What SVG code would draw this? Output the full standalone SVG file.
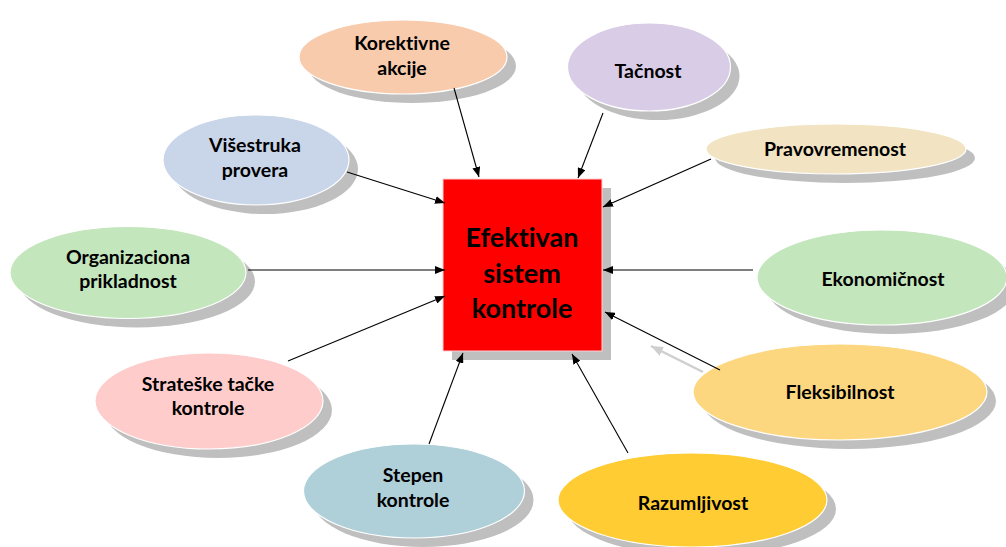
<svg xmlns="http://www.w3.org/2000/svg" width="1006" height="547" viewBox="0 0 1006 547">
<defs>
<marker id="ah" viewBox="0 0 10 8" refX="10" refY="4" markerWidth="10" markerHeight="8" markerUnits="userSpaceOnUse" orient="auto">
<path d="M0,0 L10,4 L0,8 Z" fill="#000"/>
</marker>
<marker id="ahg" viewBox="0 0 10 8" refX="10" refY="4" markerWidth="12" markerHeight="10" markerUnits="userSpaceOnUse" orient="auto">
<path d="M0,0 L10,4 L0,8 Z" fill="#CFCFCF"/>
</marker>
</defs>
<style>
.sh{fill:#BFBFBF}
.nd{stroke:#FFFFFF;stroke-width:1.2}
.t{font-family:Lato,"Open Sans","Liberation Sans",sans-serif;font-weight:bold;font-size:19.5px;fill:#000;text-anchor:middle;font-variant-ligatures:none}
.tc{font-family:Lato,"Open Sans","Liberation Sans",sans-serif;font-weight:bold;font-size:27px;fill:#000;text-anchor:middle;font-variant-ligatures:none}
.c{stroke:#000;stroke-width:1.1;fill:none;marker-end:url(#ah)}
.cg{stroke:#CFCFCF;stroke-width:2.5;fill:none;marker-end:url(#ahg)}
</style>
<rect width="1006" height="547" fill="#FFFFFF"/>

<g id="center">
<rect class="sh" x="452" y="188" width="159" height="172"/>
<rect x="443" y="179" width="159" height="172" fill="#FF0000" stroke="#FFD0D0" stroke-width="1"/>
<text class="tc" x="522" y="247">Efektivan</text>
<text class="tc" x="522" y="283">sistem</text>
<text class="tc" x="522" y="318">kontrole</text>
</g>

<g id="korektivne">
<ellipse class="sh" cx="412" cy="66" rx="104" ry="37"/>
<ellipse class="nd" cx="403" cy="57" rx="104" ry="37" fill="#F8CBAD"/>
<text class="t" x="402" y="50">Korektivne</text>
<text class="t" x="402" y="75">akcije</text>
</g>

<g id="tacnost">
<ellipse class="sh" cx="658" cy="76" rx="81.5" ry="44"/>
<ellipse class="nd" cx="649" cy="67" rx="81.5" ry="44" fill="#D9CCE6"/>
<text class="t" x="648" y="78">Tačnost</text>
</g>

<g id="visestruka">
<ellipse class="sh" cx="265" cy="169" rx="93" ry="45"/>
<ellipse class="nd" cx="256" cy="160" rx="93" ry="45" fill="#C9D5E9"/>
<text class="t" x="255" y="152">Višestruka</text>
<text class="t" x="255" y="177">provera</text>
</g>

<g id="pravovremenost">
<ellipse class="sh" cx="845" cy="158" rx="130" ry="25"/>
<ellipse class="nd" cx="836" cy="149" rx="130" ry="25" fill="#F2E3C2"/>
<text class="t" x="835" y="156">Pravovremenost</text>
</g>

<g id="organizaciona">
<ellipse class="sh" cx="137" cy="281.5" rx="118" ry="46"/>
<ellipse class="nd" cx="128" cy="272.5" rx="118" ry="46" fill="#C3E6BD"/>
<text class="t" x="128" y="264">Organizaciona</text>
<text class="t" x="128" y="288">prikladnost</text>
</g>

<g id="ekonomicnost">
<ellipse class="sh" cx="891" cy="286.5" rx="125" ry="47.5"/>
<ellipse class="nd" cx="882" cy="277.5" rx="125" ry="47.5" fill="#C3E6BD"/>
<text class="t" x="883" y="286">Ekonomičnost</text>
</g>

<g id="strateske">
<ellipse class="sh" cx="218" cy="410" rx="114" ry="48"/>
<ellipse class="nd" cx="209" cy="401" rx="114" ry="48" fill="#FFCCCC"/>
<text class="t" x="208" y="391">Strateške tačke</text>
<text class="t" x="208" y="415">kontrole</text>
</g>

<g id="fleksibilnost">
<ellipse class="sh" cx="849" cy="401" rx="147" ry="48"/>
<ellipse class="nd" cx="840" cy="392" rx="147" ry="48" fill="#FDD77F"/>
<text class="t" x="840" y="399">Fleksibilnost</text>
</g>

<g id="stepen">
<ellipse class="sh" cx="423" cy="500" rx="110.5" ry="47"/>
<ellipse class="nd" cx="414" cy="491" rx="110.5" ry="47" fill="#AFCFD9"/>
<text class="t" x="413" y="482">Stepen</text>
<text class="t" x="413" y="507">kontrole</text>
</g>

<g id="razumljivost">
<ellipse class="sh" cx="701.5" cy="509" rx="134.5" ry="47"/>
<ellipse class="nd" cx="692.5" cy="500" rx="134.5" ry="47" fill="#FFCC33"/>
<text class="t" x="693" y="510">Razumljivost</text>
</g>

<g id="connectors">
<line class="c" x1="454" y1="88" x2="479" y2="177"/>
<line class="c" x1="603" y1="113" x2="578" y2="178"/>
<line class="c" x1="347" y1="172" x2="445" y2="203"/>
<line class="c" x1="711" y1="159" x2="603" y2="207"/>
<line class="c" x1="248" y1="270" x2="445" y2="270"/>
<line class="c" x1="753" y1="270" x2="603" y2="270"/>
<line class="c" x1="288" y1="361" x2="445" y2="296"/>
<line class="c" x1="720" y1="370" x2="605" y2="312"/>
<line class="c" x1="429" y1="444" x2="463" y2="353"/>
<line class="c" x1="628" y1="453" x2="572" y2="354"/>
<line class="cg" x1="703" y1="372" x2="651" y2="346"/>
</g>
</svg>
